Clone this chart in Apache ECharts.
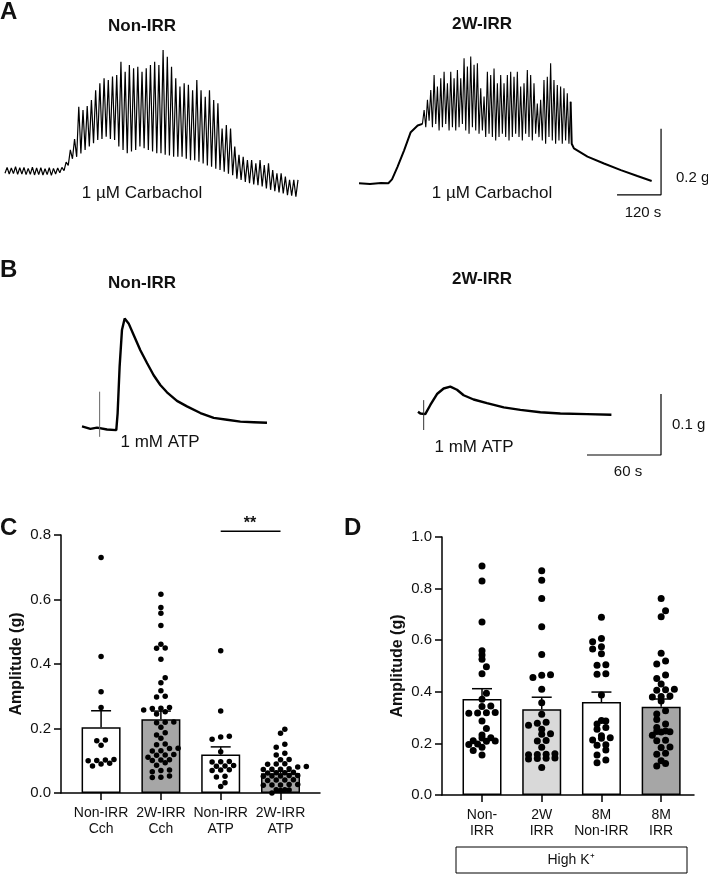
<!DOCTYPE html>
<html>
<head>
<meta charset="utf-8">
<script src="https://cdn.jsdelivr.net/npm/echarts@6.0.0/dist/echarts.min.js"></script>
<style>
  html, body { margin: 0; padding: 0; background: #fff; }
  #fig { width: 708px; height: 875px; }
</style>
</head>
<body>
<div id="fig"></div>
<script type="text/javascript">
// ---- A: carbachol traces (g above start baseline) ----
// Non-IRR: one trough/peak pair per contraction cycle, evenly spaced over 800 s
var A_NONIRR_TROUGH = [-0.004, -0.006, -0.005, -0.007, -0.006, -0.008, -0.007, -0.009, -0.008, -0.009, -0.008, -0.010, -0.006, -0.002,
    0.004, 0.02, 0.04,
    0.046, 0.056, 0.067, 0.077, 0.087, 0.097, 0.100, 0.107, 0.100, 0.097,
    0.077, 0.067, 0.057, 0.062, 0.067, 0.077, 0.072, 0.067, 0.062, 0.057,
    0.057, 0.052, 0.050, 0.046, 0.046, 0.046, 0.040, 0.036, 0.036, 0.031,
    0.026, 0.020, 0.016, 0.010, 0.006, 0.001, -0.005, -0.010, -0.020, -0.024,
    -0.030, -0.034, -0.038, -0.040, -0.044, -0.050, -0.054, -0.058, -0.062, -0.065,
    -0.070, -0.072, -0.075];
var A_NONIRR_PEAK = [0.014, 0.012, 0.016, 0.013, 0.014, 0.011, 0.015, 0.012, 0.013, 0.010, 0.013, 0.011, 0.012, 0.014,
    0.03, 0.067, 0.1,
    0.198, 0.188, 0.2, 0.218, 0.248, 0.269, 0.284, 0.279, 0.289, 0.294,
    0.334, 0.304, 0.324, 0.314, 0.319, 0.304, 0.314, 0.324, 0.334, 0.324,
    0.370, 0.349, 0.319, 0.284, 0.259, 0.269, 0.264, 0.248, 0.279, 0.248,
    0.228, 0.248, 0.218, 0.208, 0.132, 0.142, 0.132, 0.077, 0.052, 0.046,
    0.036, 0.036, 0.026, 0.036, 0.021, 0.026, 0.006, -0.004, -0.004, -0.014,
    -0.024, -0.024, -0.024];
var A_NONIRR_SPAN = [0, 800];

// 2W-IRR: slow rise, contraction burst (173-577 s), slow decay
var A_2W_PRE = [[0, 0], [30, -0.002], [60, 0.001], [80, 0], [90, 0.012], [105, 0.05], [123, 0.1], [141, 0.155], [160, 0.175], [173, 0.18]];
var A_2W_TROUGH = [0.18, 0.17, 0.19, 0.17, 0.18, 0.16, 0.17, 0.18, 0.16, 0.17, 0.16,
    0.17, 0.18, 0.16, 0.15, 0.17, 0.16, 0.15, 0.16,
    0.14, 0.15, 0.14, 0.13, 0.14, 0.15, 0.14, 0.13,
    0.14, 0.15, 0.14, 0.13, 0.15, 0.14, 0.13, 0.15,
    0.14, 0.13, 0.12, 0.14, 0.13, 0.12, 0.13, 0.12, 0.13, 0.12];
var A_2W_PEAK = [0.222, 0.253, 0.283, 0.328, 0.293, 0.318, 0.338, 0.303, 0.338, 0.318, 0.343,
    0.318, 0.379, 0.354, 0.384, 0.359, 0.364, 0.288, 0.263,
    0.338, 0.328, 0.348, 0.303, 0.328, 0.303, 0.328, 0.338,
    0.323, 0.338, 0.293, 0.303, 0.343, 0.328, 0.303, 0.242,
    0.253, 0.313, 0.323, 0.364, 0.313, 0.298, 0.293, 0.288, 0.273, 0.247];
var A_2W_SPAN = [173, 577];
var A_2W_POST = [[580, 0.12], [586, 0.106], [623, 0.081], [668, 0.06], [714, 0.04], [759, 0.022], [798, 0.007]];

// ---- B: ATP traces [s, g] ----
var B_NONIRR = [[0, 0.003], [6.8, -0.001], [12.2, 0.001], [20.3, -0.002], [27.8, -0.003], [28.9, 0.025], [30.5, 0.101],
    [32.4, 0.161], [34.6, 0.18], [37.8, 0.172], [41.9, 0.153], [47.3, 0.128], [52.7, 0.107], [58.1, 0.087],
    [63.5, 0.071], [68.9, 0.059], [77, 0.045], [85.1, 0.036], [96, 0.025], [106.8, 0.017], [117.6, 0.014],
    [128.4, 0.011], [139.2, 0.01], [150, 0.009]];
var B_NONIRR_ARTIFACT = [[14.3, 0.06], [14.3, -0.014]];
var B_2W = [[0, 0], [1.9, -0.003], [5.9, -0.004], [10, 0.011], [15.4, 0.029], [20.8, 0.038], [26.2, 0.041],
    [31.6, 0.036], [37, 0.027], [45.1, 0.02], [55.9, 0.014], [69.5, 0.007], [83, 0.003], [99.2, -0.001],
    [115.4, -0.003], [137, -0.004], [156.8, -0.005]];
var B_2W_ARTIFACT = [[4.6, 0.019], [4.6, -0.03]];

// ---- C: contraction amplitude ----
var C_CATS = ['Non-IRR\nCch', '2W-IRR\nCch', 'Non-IRR\nATP', '2W-IRR\nATP'];
var C_MEAN = [0.204, 0.229, 0.119, 0.061];
var C_SEM = [0.051, 0.025, 0.024, 0.006];
var C_NONIRR_CCH = [0.73, 0.423, 0.314, 0.265, 0.164, 0.162, 0.148, 0.104, 0.102, 0.100, 0.101, 0.090, 0.092, 0.084];
var C_2WIRR_CCH = [0.616, 0.575, 0.557, 0.519, 0.461, 0.449, 0.450, 0.415, 0.357, 0.342, 0.317, 0.300, 0.298, 0.265,
    0.263, 0.262, 0.257, 0.252, 0.245, 0.219, 0.218, 0.220, 0.204, 0.187, 0.180, 0.170, 0.152, 0.150, 0.139, 0.138,
    0.131, 0.130, 0.118, 0.119, 0.117, 0.111, 0.102, 0.103, 0.101, 0.094, 0.086, 0.071, 0.070, 0.066, 0.053, 0.049, 0.048];
var C_NONIRR_ATP = [0.441, 0.254, 0.176, 0.174, 0.167, 0.128, 0.098, 0.097, 0.096, 0.085, 0.084, 0.083, 0.072, 0.071,
    0.070, 0.052, 0.050, 0.032, 0.020];
var C_2WIRR_ATP = [0.198, 0.185, 0.151, 0.142, 0.123, 0.118, 0.104, 0.103, 0.091, 0.090, 0.089, 0.082, 0.081, 0.075,
    0.074, 0.073, 0.074, 0.064, 0.063, 0.062, 0.063, 0.054, 0.053, 0.052, 0.053, 0.054, 0.041, 0.040, 0.039, 0.040,
    0.026, 0.025, 0.024, 0.025, 0.026, 0.010, 0.009, 0.008, 0.010, 0.000];
var C_COLORS = ['#ffffff', '#a6a6a6', '#ffffff', '#a6a6a6'];
var C_SIG = { from: 2, to: 3, level: 0.812, text: '**' };

// ---- D: high K+ amplitude ----
var D_CATS = ['Non-\nIRR', '2W\nIRR', '8M\nNon-IRR', '8M\nIRR'];
var D_MEAN = [0.372, 0.332, 0.360, 0.342];
var D_SEM = [0.040, 0.047, 0.039, 0.030];
var D_NONIRR = [0.888, 0.829, 0.671, 0.559, 0.543, 0.526, 0.497, 0.470, 0.394, 0.371, 0.345, 0.343, 0.320, 0.318,
    0.317, 0.319, 0.287, 0.258, 0.233, 0.222, 0.221, 0.210, 0.209, 0.208, 0.198, 0.196, 0.185, 0.172, 0.155];
var D_2WIRR = [0.869, 0.832, 0.762, 0.652, 0.545, 0.466, 0.464, 0.455, 0.41, 0.358, 0.313, 0.282, 0.278, 0.270,
    0.255, 0.237, 0.235, 0.211, 0.209, 0.185, 0.160, 0.158, 0.157, 0.156, 0.143, 0.142, 0.141, 0.140, 0.107];
var D_8M_NONIRR = [0.689, 0.607, 0.594, 0.575, 0.566, 0.547, 0.505, 0.503, 0.470, 0.468, 0.388, 0.289, 0.287, 0.275,
    0.262, 0.255, 0.230, 0.222, 0.220, 0.213, 0.195, 0.193, 0.174, 0.155, 0.136, 0.125];
var D_8M_IRR = [0.762, 0.714, 0.691, 0.549, 0.519, 0.508, 0.465, 0.452, 0.430, 0.410, 0.408, 0.406, 0.384, 0.382,
    0.380, 0.364, 0.327, 0.314, 0.293, 0.275, 0.262, 0.248, 0.246, 0.245, 0.244, 0.232, 0.212, 0.210, 0.186, 0.184,
    0.162, 0.158, 0.133, 0.122, 0.112];
var D_COLORS = ['#ffffff', '#d9d9d9', '#ffffff', '#a6a6a6'];

var FONT = '"Liberation Sans", Arial, Helvetica, sans-serif';

// grids: 0 A-left, 1 A-right, 2 B-left, 3 B-right, 4 C, 5 D
var grids = [
    { left: 5, top: 23.5, width: 293, height: 198 },
    { left: 359, top: 34.8, width: 304.4, height: 198 },
    { left: 82, top: 306.3, width: 185, height: 152.5 },
    { left: 418, top: 320.2, width: 246.7, height: 152.5 },
    { left: 61, top: 535, width: 259, height: 258 },
    { left: 442, top: 537, width: 252, height: 258 }
];
var xRanges = [[0, 800], [0, 830], [0, 150], [0, 200], [-0.67, 3.66], [-0.67, 3.55]];
var yRanges = [[-0.15, 0.45], [-0.15, 0.45], [-0.05, 0.2], [-0.1, 0.15], [0, 0.8], [0, 1]];

function zigzag(span, lows, highs) {
    var n = lows.length * 2 - 1;
    var step = (span[1] - span[0]) / n;
    var out = [];
    for (var i = 0; i < lows.length; i++) {
        out.push([span[0] + 2 * i * step, lows[i]]);
        out.push([span[0] + (2 * i + 1) * step, highs[i]]);
    }
    return out;
}

// prism-style scatter: group dots into rows, centre each row on the bar
function swarm(values, cat, g, step, rowH, dia) {
    var gr = grids[g];
    var pxX = gr.width / (xRanges[g][1] - xRanges[g][0]);
    var pxY = gr.height / (yRanges[g][1] - yRanges[g][0]);
    var rows = [], cur = null;
    values.slice().sort(function (a, b) { return a - b; }).forEach(function (v) {
        var py = v * pxY;
        if (!cur || py - cur.start >= rowH) {
            cur = { start: py, items: [] };
            rows.push(cur);
        }
        cur.items.push(v);
    });
    var out = [], prev = [];
    rows.forEach(function (row) {
        var n = row.items.length;
        var shifts = [0, step / 2, -step / 2];
        var best = null;
        for (var s = 0; s < shifts.length && !best; s++) {
            var pts = row.items.map(function (v, j) {
                return [(j - (n - 1) / 2) * step + shifts[s], v * pxY, v];
            });
            var hit = pts.some(function (p) {
                return prev.some(function (q) { return Math.hypot(p[0] - q[0], p[1] - q[1]) < dia; });
            });
            if (!hit) best = pts;
        }
        if (!best) {
            best = row.items.map(function (v, j) { return [(j - (n - 1) / 2) * step, v * pxY, v]; });
        }
        best.forEach(function (p) { out.push([cat + p[0] / pxX, p[2]]); });
        prev = best;
    });
    return out;
}

function traceSeries(idx, data, width, color) {
    return {
        type: 'line', xAxisIndex: idx, yAxisIndex: idx, data: data, showSymbol: false,
        lineStyle: { color: color || '#000', width: width }, animation: false, silent: true, clip: false
    };
}

function errorSeries(idx, means, sems) {
    return {
        type: 'custom', xAxisIndex: idx, yAxisIndex: idx, z: 3, silent: true,
        data: means.map(function (m, i) { return [i, m, sems[i]]; }),
        encode: { x: 0, y: 1 },
        renderItem: function (params, api) {
            var p0 = api.coord([api.value(0), api.value(1)]);
            var p1 = api.coord([api.value(0), api.value(1) + api.value(2)]);
            var st = { stroke: '#000', lineWidth: 1.5 };
            return {
                type: 'group', children: [
                    { type: 'line', shape: { x1: p0[0], y1: p0[1], x2: p1[0], y2: p1[1] }, style: st },
                    { type: 'line', shape: { x1: p1[0] - 10, y1: p1[1], x2: p1[0] + 10, y2: p1[1] }, style: st }
                ]
            };
        }
    };
}

function barSeries(idx, means, colors) {
    return {
        type: 'bar', xAxisIndex: idx, yAxisIndex: idx, z: 2, barWidth: 39, silent: true,
        data: means.map(function (m, i) {
            return { value: [i, m], itemStyle: { color: colors[i], borderColor: '#000', borderWidth: 1.5 } };
        })
    };
}

function dotSeries(idx, groups, size, step, rowH) {
    var data = [];
    groups.forEach(function (vals, i) { data = data.concat(swarm(vals, i, idx, step, rowH, size)); });
    return {
        type: 'scatter', xAxisIndex: idx, yAxisIndex: idx, z: 4, silent: true, data: data,
        symbolSize: size, itemStyle: { color: '#000', opacity: 1 }
    };
}

var xAxes = [], yAxes = [];
grids.forEach(function (g, i) {
    var isBar = i >= 4;
    var cats = i === 4 ? C_CATS : D_CATS;
    xAxes.push({
        type: 'value', gridIndex: i, min: xRanges[i][0], max: xRanges[i][1], show: isBar,
        axisLine: { show: true, onZero: false, lineStyle: { color: '#000', width: 1.5 } },
        axisTick: { show: true, length: 7, lineStyle: { color: '#000', width: 1.5 }, customValues: [0, 1, 2, 3] },
        axisLabel: {
            customValues: [0, 1, 2, 3], margin: 12, fontSize: 14, lineHeight: 16, color: '#111', fontFamily: FONT,
            formatter: function (v) { return cats[Math.round(v)]; }
        },
        splitLine: { show: false }
    });
    var y = {
        type: 'value', gridIndex: i, min: yRanges[i][0], max: yRanges[i][1], show: isBar,
        name: isBar ? 'Amplitude (g)' : '', nameLocation: 'middle', nameGap: 36,
        nameTextStyle: { fontSize: 16, fontWeight: 'bold', color: '#111', fontFamily: FONT },
        axisLine: { show: true, onZero: false, lineStyle: { color: '#000', width: 1.5 } },
        axisTick: { show: true, length: 7, lineStyle: { color: '#000', width: 1.5 } },
        axisLabel: {
            margin: 10, fontSize: 15, color: '#111', fontFamily: FONT,
            formatter: function (v) { return v.toFixed(1); }
        },
        splitLine: { show: false }
    };
    if (isBar) y.interval = 0.2;
    yAxes.push(y);
});

// scale bars live in the right-hand trace grids
var scaleA = [[703.6, -0.035], [703.6 + 120, -0.035], [703.6 + 120, -0.035 + 0.2]];
var scaleB = [[137, -0.071], [137 + 60, -0.071], [137 + 60, -0.071 + 0.1]];

var series = [
    traceSeries(0, zigzag(A_NONIRR_SPAN, A_NONIRR_TROUGH, A_NONIRR_PEAK), 1.2),
    traceSeries(1, A_2W_PRE, 2),
    traceSeries(1, zigzag(A_2W_SPAN, A_2W_TROUGH, A_2W_PEAK), 1.1),
    traceSeries(1, [[A_2W_SPAN[1], A_2W_PEAK[A_2W_PEAK.length - 1]]].concat(A_2W_POST), 2),
    traceSeries(1, scaleA, 1.2),
    traceSeries(2, B_NONIRR, 2.4),
    traceSeries(2, B_NONIRR_ARTIFACT, 1, '#666'),
    traceSeries(3, B_2W, 2.4),
    traceSeries(3, B_2W_ARTIFACT, 1, '#333'),
    traceSeries(3, scaleB, 1.2),
    barSeries(4, C_MEAN, C_COLORS),
    errorSeries(4, C_MEAN, C_SEM),
    dotSeries(4, [C_NONIRR_CCH, C_2WIRR_CCH, C_NONIRR_ATP, C_2WIRR_ATP], 5.5, 8.6, 3.0),
    traceSeries(4, [[C_SIG.from, C_SIG.level], [C_SIG.to, C_SIG.level]], 1.5),
    barSeries(5, D_MEAN, D_COLORS),
    errorSeries(5, D_MEAN, D_SEM),
    dotSeries(5, [D_NONIRR, D_2WIRR, D_8M_NONIRR, D_8M_IRR], 7, 8.8, 3.6)
];

function txt(x, y, s, size, bold, align) {
    return {
        type: 'text', x: x, y: y, silent: true,
        style: {
            text: s, fill: '#111', fontFamily: FONT, fontSize: size, fontWeight: bold ? 'bold' : 'normal',
            align: align || 'center', verticalAlign: 'middle'
        }
    };
}

var graphics = [
    txt(0, 12, 'A', 24, true, 'left'),
    txt(0, 270, 'B', 24, true, 'left'),
    txt(0, 528, 'C', 24, true, 'left'),
    txt(344, 528, 'D', 24, true, 'left'),
    txt(142, 26, 'Non-IRR', 17, true),
    txt(482, 24, '2W-IRR', 17, true),
    txt(142, 193, '1 \u00b5M Carbachol', 17),
    txt(492, 193, '1 \u00b5M Carbachol', 17),
    txt(676, 178, '0.2 g', 15, false, 'left'),
    txt(643, 213, '120 s', 15),
    txt(142, 283, 'Non-IRR', 17, true),
    txt(482, 279, '2W-IRR', 17, true),
    txt(160, 442, '1 mM ATP', 17),
    txt(474, 447, '1 mM ATP', 17),
    txt(672, 425, '0.1 g', 15, false, 'left'),
    txt(628, 472, '60 s', 15),
    txt(250, 524, C_SIG.text, 16, true),
    {
        type: 'rect', silent: true, shape: { x: 456, y: 847, width: 231, height: 26 },
        style: { fill: 'none', stroke: '#000', lineWidth: 1 }
    },
    txt(571, 860, 'High K\u207a', 14)
];

var chart = echarts.init(document.getElementById('fig'), null, { renderer: 'canvas' });
chart.setOption({
    animation: false,
    backgroundColor: '#fff',
    textStyle: { fontFamily: FONT },
    grid: grids.map(function (g) { return Object.assign({ outerBoundsMode: 'none' }, g); }),
    xAxis: xAxes,
    yAxis: yAxes,
    series: series,
    graphic: graphics
});
</script>
</body>
</html>
